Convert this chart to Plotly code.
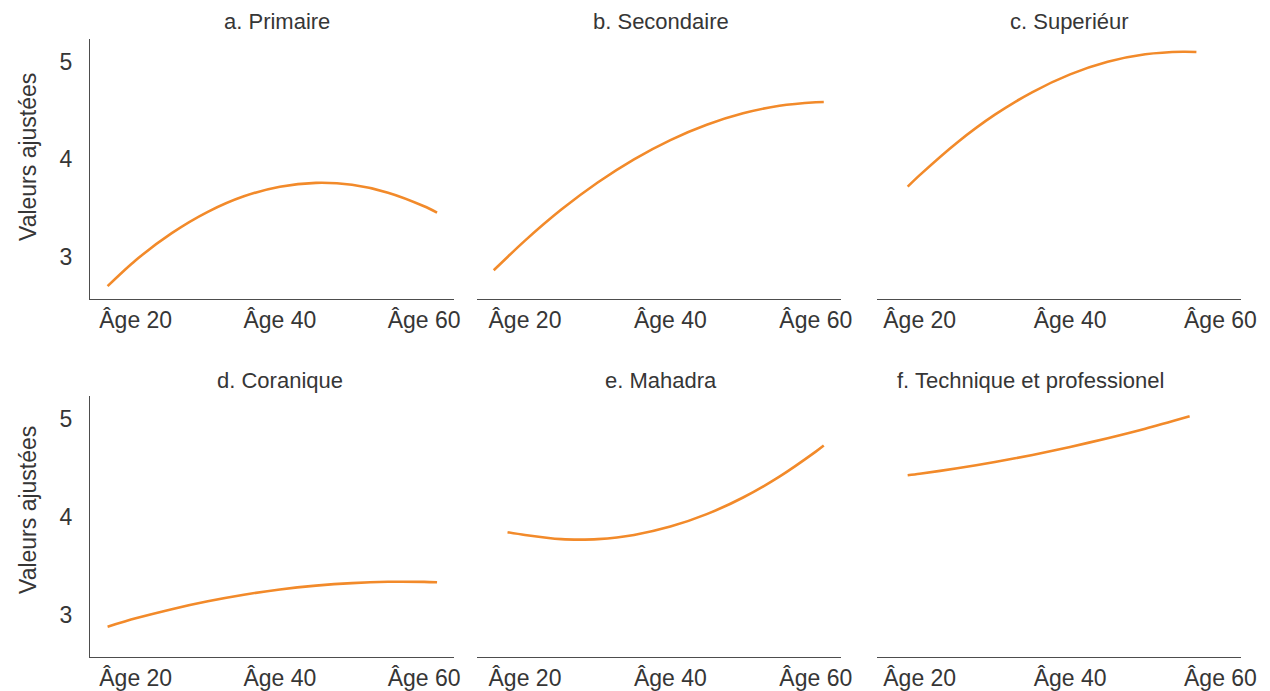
import plotly.graph_objects as go

# ---- data ----
titles = ["a. Primaire", "b. Secondaire", "c. Superiéur",
          "d. Coranique", "e. Mahadra", "f. Technique et professionel"]

age_a = [16.1, 20, 25, 30, 35, 40, 45, 50, 55, 60, 61.8]
val_a = [2.700, 2.965, 3.242, 3.460, 3.619, 3.718, 3.757, 3.737, 3.657, 3.518, 3.453]

age_b = [15.7, 20, 25, 30, 35, 40, 45, 50, 55, 60, 61.1]
val_b = [2.862, 3.166, 3.484, 3.761, 3.998, 4.195, 4.352, 4.469, 4.546, 4.582, 4.585]

age_c = [18.4, 20, 25, 30, 35, 40, 45, 50, 55, 56.8]
val_c = [3.718, 3.836, 4.171, 4.455, 4.687, 4.868, 4.997, 5.074, 5.100, 5.097]

age_d = [16.1, 20, 25, 30, 35, 40, 45, 50, 55, 60, 61.8]
val_d = [2.877, 2.962, 3.056, 3.136, 3.203, 3.257, 3.296, 3.322, 3.335, 3.334, 3.330]

age_e = [17.6, 20, 25, 27.5, 30, 35, 40, 45, 50, 55, 60, 61.1]
val_e = [3.841, 3.813, 3.770, 3.765, 3.770, 3.813, 3.898, 4.025, 4.195, 4.408, 4.663, 4.725]

age_f = [18.4, 20, 25, 30, 35, 40, 45, 50, 55.9]
val_f = [4.421, 4.437, 4.493, 4.557, 4.629, 4.710, 4.800, 4.897, 5.024]

tick_vals = [20, 40, 60]
tick_text = ["Âge 20", "Âge 40", "Âge 60"]
y_ticks = [3, 4, 5]
y_title = "Valeurs ajustées"

series = [(age_a, val_a), (age_b, val_b), (age_c, val_c),
          (age_d, val_d), (age_e, val_e), (age_f, val_f)]

# ---- layout geometry (page pixels) ----
W, H = 1270, 691
col_px = [(90, 454), (477, 841), (877, 1241)]
row_px = [(39, 299.3), (396, 657.3)]
x_ranges = [(13.66, 64.15), (13.40, 63.47), (14.32, 62.73)]
y_range = (2.565, 5.23)


def px_x(p):
    return p / W


def px_y(p):
    return 1 - p / H


FONT = "Liberation Sans, Arial, sans-serif"
TXT = "#363636"
AX = "#4d4d4d"
ORANGE = "#F28A2A"
FS = 23

fig = go.Figure()
layout = dict(width=W, height=H, margin=dict(l=0, r=0, t=0, b=0, autoexpand=False),
              paper_bgcolor="white", plot_bgcolor="white", showlegend=False,
              font=dict(family=FONT, color=TXT))

for i, (xs, ys) in enumerate(series):
    r, c = divmod(i, 3)
    n = i + 1
    xa = "x" if n == 1 else f"x{n}"
    ya = "y" if n == 1 else f"y{n}"
    fig.add_trace(go.Scatter(x=xs, y=ys, mode="lines", xaxis=xa, yaxis=ya,
                             line=dict(color=ORANGE, width=2.6, shape="spline", smoothing=0.8),
                             hoverinfo="skip"))
    x0, x1 = col_px[c]
    t0, t1 = row_px[r]
    layout["xaxis" if n == 1 else f"xaxis{n}"] = dict(
        domain=[px_x(x0), px_x(x1)], range=list(x_ranges[c]), anchor=ya,
        automargin=False,
        showgrid=False, zeroline=False, showline=True, linecolor=AX, linewidth=1.3,
        tickvals=tick_vals, ticktext=tick_text, ticks="",
        tickfont=dict(size=FS, color=TXT, family=FONT),
        fixedrange=True)
    layout["yaxis" if n == 1 else f"yaxis{n}"] = dict(
        domain=[px_y(t1), px_y(t0)], range=list(y_range), anchor=xa,
        automargin=False,
        showgrid=False, zeroline=False, showline=(c == 0), linecolor=AX, linewidth=1.3,
        tickvals=y_ticks, showticklabels=(c == 0), ticks="outside" if c == 0 else "",
        ticklen=12, tickcolor="rgba(0,0,0,0)",
        tickfont=dict(size=FS, color=TXT, family=FONT), fixedrange=True)

# panel titles
title_pos = [(277, 22), (661, 22), (1069, 22), (280, 380), (661, 380), (1030, 380)]
annotations = []
for t, (px, py) in zip(titles, title_pos):
    annotations.append(dict(text=t, x=px_x(px), y=px_y(py), xref="paper", yref="paper",
                            xanchor="center", yanchor="middle", showarrow=False,
                            font=dict(size=FS - 1, color=TXT, family=FONT)))
for cy in (157, 510):
    annotations.append(dict(text=y_title, x=px_x(28), y=px_y(cy), xref="paper", yref="paper",
                            xanchor="center", yanchor="middle", showarrow=False, textangle=-90,
                            font=dict(size=FS, color=TXT, family=FONT)))
layout["annotations"] = annotations

fig.update_layout(**layout)
fig.write_html("out.html", config={"displayModeBar": False},
               post_script="document.body.style.margin='0px';document.body.style.overflow='hidden';")
